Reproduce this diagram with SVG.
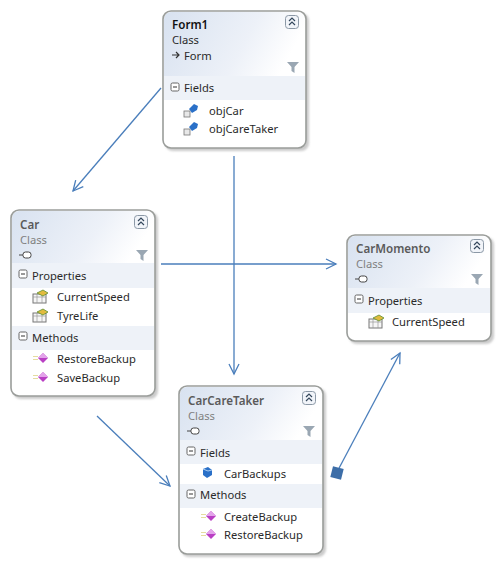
<svg xmlns="http://www.w3.org/2000/svg" width="500" height="563" viewBox="0 0 500 563">
<style>
text{font-family:"Noto Sans","Open Sans","Liberation Sans",sans-serif;font-size:11.2px;fill:#2a2a2a}
.t{font-size:11.600px;font-weight:600;fill:#5a5a5a}
.f{fill:#111}
.s{fill:#808080}
.b{fill:url(#hd);stroke:none}
.o{fill:none;stroke:#9a9d9a;stroke-width:1.600}
.sh{fill:#a8a8a8;opacity:.6;filter:url(#bl)}
.w{fill:#fff}
.band{fill:#eef2f8}
.c{stroke:#4a7ebb;stroke-width:1.300;fill:none}
</style>
<defs>
<filter id="bl" x="-10%" y="-10%" width="120%" height="120%"><feGaussianBlur stdDeviation="1.200"/></filter>
<linearGradient id="hd" x1="0" y1="0" x2="1" y2="0.250"><stop offset="0" stop-color="#d8e2f0"/><stop offset=".65" stop-color="#edf1f8"/><stop offset="1" stop-color="#fff"/></linearGradient>
<marker id="a" markerWidth="14" markerHeight="12" refX="11" refY="6" orient="auto" markerUnits="userSpaceOnUse"><path d="M1 1L11 6L1 11" fill="none" stroke="#4a7ebb" stroke-width="1.300"/></marker>
<g id="col"><rect x="-6.500" y="-6.500" width="13" height="13" rx="3" fill="#f1f4f9" stroke="#8b98a6"/><path d="M-3 -1L0 -4L3 -1M-3 3L0 0L3 3" fill="none" stroke="#34475c" stroke-width="1.200"/></g>
<path id="fil" d="M-6 -5H6L1.500 0V6L-1.500 4V0Z" fill="#9aa7b3"/>
<g id="min"><rect x="-4" y="-4" width="8" height="8" rx="1.500" fill="#fff" stroke="#666"/><path d="M-2 0H2" stroke="#333"/></g>
<g id="fld"><rect x="-7" y="1" width="6" height="6" fill="#e8e8e8" stroke="#777" stroke-width=".8"/><path d="M-2 -1L3 -6L7 -4L6 0L1 3Z" fill="#2a70c8"/></g>
<g id="prv"><path d="M-4 -4L1 -6L5 -3V2L0 5L-4 2Z" fill="#2a70c8"/><path d="M-4 -4L1 -2L5 -3" fill="none" stroke="#a9cdf3"/></g>
<g id="prop"><rect x="-7" y="-2" width="13" height="9" fill="#f6f6f6" stroke="#777"/><path d="M-7 1H6M-3 -2V7M2 -2V7" stroke="#999" stroke-width=".7"/><path d="M-3 -3L3 -6L8 -3L3 0Z" fill="#e2bb3f" stroke="#5d8f30" stroke-width=".8"/></g>
<g id="mth"><path d="M-9 -1.500H-4M-9 1.500H-4" stroke="#e5dca0" stroke-width="1.200"/><path d="M1 -5L6 0L1 5L-4 0Z" fill="#b93fc4"/><path d="M1 -5L6 0H-4Z" fill="#e3a3ea"/></g>
<g id="lnk"><path d="M-4 0H3M0 -3L3 0L0 3" fill="none" stroke="#333" stroke-width="1.200"/></g>
<g id="key"><rect x="-3" y="-3" width="8" height="6" rx="2.500" fill="#fff" stroke="#444"/><path d="M-7 0H-3" stroke="#444"/></g>
</defs>
<g id="connectors">
<path class="c" d="M161 88L73 191" marker-end="url(#a)"/>
<path class="c" d="M234 156V374" marker-end="url(#a)"/>
<path class="c" d="M161 264H336" marker-end="url(#a)"/>
<path class="c" d="M97 416L170 486" marker-end="url(#a)"/>
<path class="c" d="M337 472L400 353" marker-end="url(#a)"/>
<rect x="331.500" y="467.500" width="11" height="11" fill="#3d6ea8" transform="rotate(14 337 473)"/>
</g>
<g id="form1">
<rect class="sh" x="165" y="13" width="144" height="138" rx="8"/>
<rect class="w" x="163" y="11" width="143" height="137" rx="8"/>
<path class="b" d="M164 76V19a7 7 0 0 1 7-7H298a7 7 0 0 1 7 7V76Z"/>
<rect class="band" x="164" y="76" width="141" height="24"/>
<rect class="o" x="163" y="11" width="143" height="137" rx="8"/>
<text class="t f" x="172" y="29">Form1</text><text x="172" y="44">Class</text><use href="#lnk" x="176" y="55"/><text x="184" y="60">Form</text>
<use href="#col" x="292" y="22"/><use href="#fil" x="293" y="67"/><use href="#min" x="175" y="87"/>
<text x="184" y="92">Fields</text>
<use href="#fld" x="191" y="110"/><text x="209" y="115">objCar</text>
<use href="#fld" x="191" y="128"/><text x="209" y="133">objCareTaker</text>
</g>
<g id="car">
<rect class="sh" x="13" y="212" width="145" height="187" rx="8"/>
<rect class="w" x="11" y="210" width="144" height="186" rx="8"/>
<path class="b" d="M12 263V218a7 7 0 0 1 7-7H147a7 7 0 0 1 7 7V263Z"/>
<rect class="band" x="12" y="263" width="142" height="25"/><rect class="band" x="12" y="326" width="142" height="24"/>
<rect class="o" x="11" y="210" width="144" height="186" rx="8"/>
<text class="t" x="20" y="229">Car</text><text class="s" x="20" y="244">Class</text><use href="#key" x="26" y="255"/>
<use href="#col" x="141" y="222"/><use href="#fil" x="142" y="255"/><use href="#min" x="23" y="274"/>
<text x="32" y="280">Properties</text>
<use href="#prop" x="40" y="296"/><text x="57" y="301">CurrentSpeed</text>
<use href="#prop" x="40" y="315"/><text x="57" y="320">TyreLife</text>
<use href="#min" x="23" y="336"/><text x="32" y="342">Methods</text>
<use href="#mth" x="42" y="358"/><text x="57" y="363">RestoreBackup</text>
<use href="#mth" x="42" y="377"/><text x="57" y="382">SaveBackup</text>
</g>
<g id="carcaretaker">
<rect class="sh" x="181" y="388" width="145" height="169" rx="8"/>
<rect class="w" x="179" y="386" width="144" height="168" rx="8"/>
<path class="b" d="M180 440V394a7 7 0 0 1 7-7H315a7 7 0 0 1 7 7V440Z"/>
<rect class="band" x="180" y="440" width="142" height="24"/><rect class="band" x="180" y="484" width="142" height="24"/>
<rect class="o" x="179" y="386" width="144" height="168" rx="8"/>
<text class="t" x="188" y="405">CarCareTaker</text><text class="s" x="188" y="420">Class</text><use href="#key" x="194" y="431"/>
<use href="#col" x="309" y="398"/><use href="#fil" x="309" y="431"/><use href="#min" x="191" y="451"/>
<text x="200" y="457">Fields</text>
<use href="#prv" x="207" y="473"/><text x="224" y="478">CarBackups</text>
<use href="#min" x="191" y="494"/><text x="200" y="499">Methods</text>
<use href="#mth" x="210" y="516"/><text x="224" y="521">CreateBackup</text>
<use href="#mth" x="210" y="534"/><text x="224" y="539">RestoreBackup</text>
</g>
<g id="carmomento">
<rect class="sh" x="349" y="237" width="145" height="107" rx="8"/>
<rect class="w" x="347" y="235" width="144" height="106" rx="8"/>
<path class="b" d="M348 288V243a7 7 0 0 1 7-7H483a7 7 0 0 1 7 7V288Z"/>
<rect class="band" x="348" y="288" width="142" height="25"/>
<rect class="o" x="347" y="235" width="144" height="106" rx="8"/>
<text class="t" x="356" y="253">CarMomento</text><text class="s" x="356" y="268">Class</text><use href="#key" x="362" y="279"/>
<use href="#col" x="477" y="246"/><use href="#fil" x="477" y="279"/><use href="#min" x="359" y="299"/>
<text x="368" y="305">Properties</text>
<use href="#prop" x="376" y="321"/><text x="392" y="326">CurrentSpeed</text>
</g>
</svg>
